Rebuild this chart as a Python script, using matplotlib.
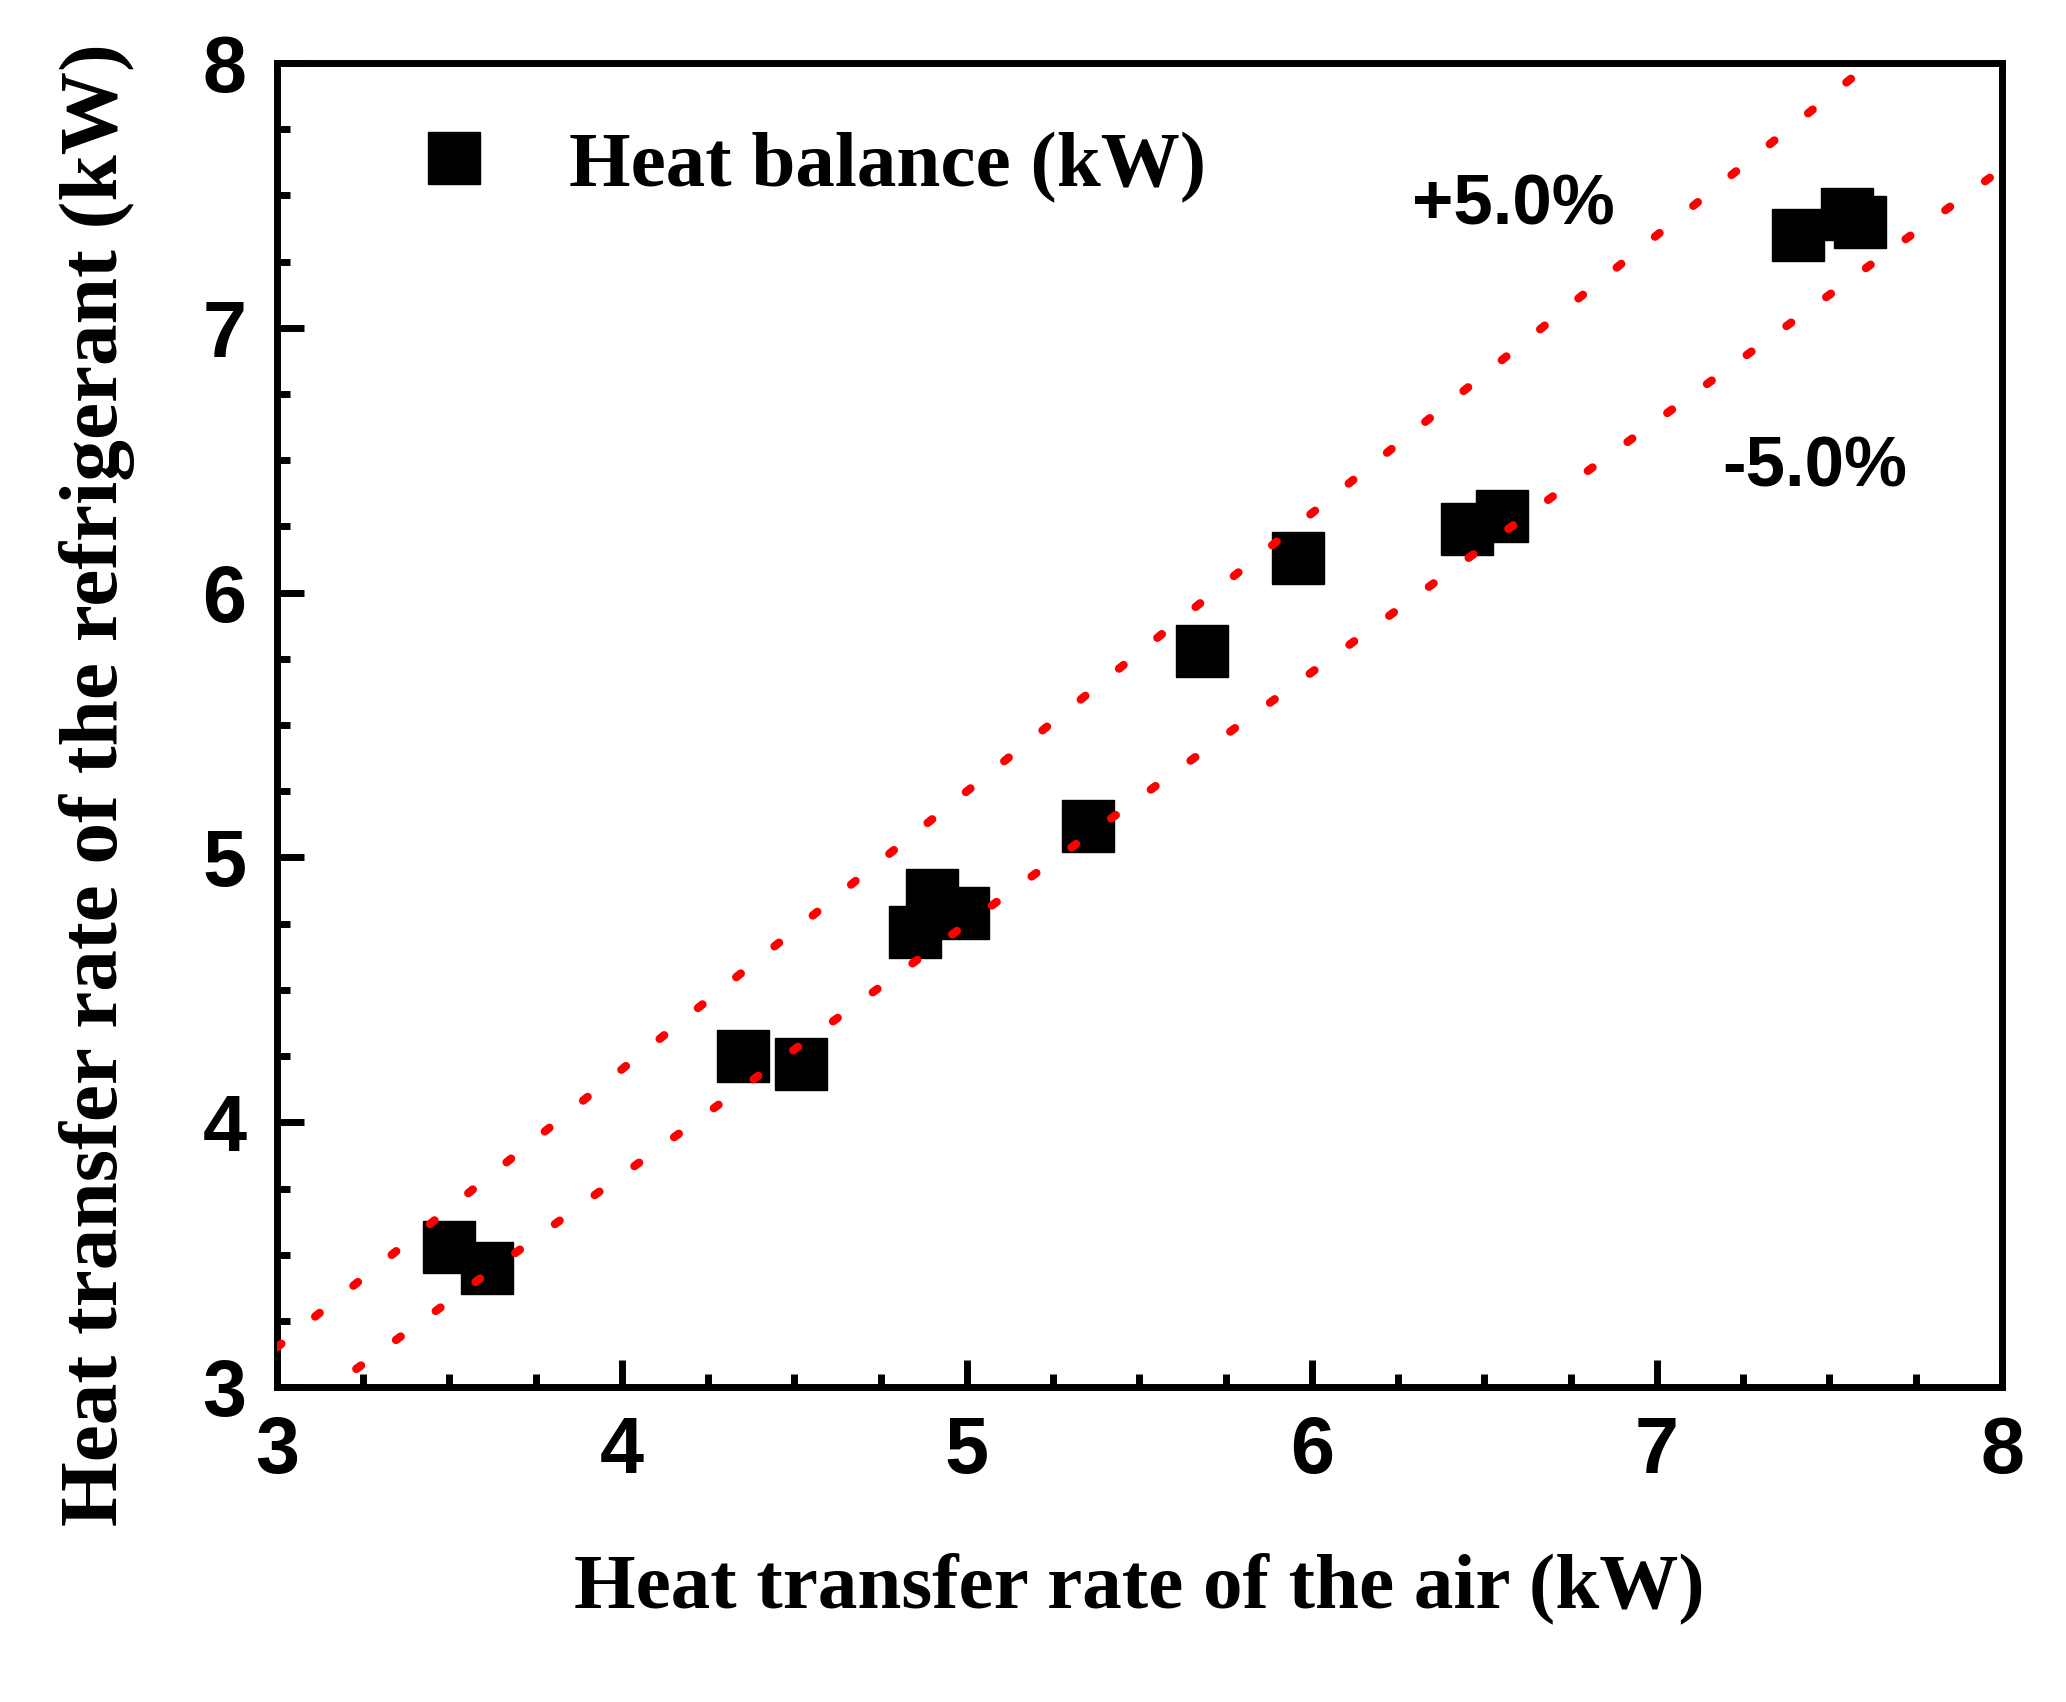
import matplotlib
matplotlib.use("Agg")
import matplotlib.pyplot as plt
import numpy as np
from matplotlib.ticker import MultipleLocator

# measured heat balance points (kW)
q_air = [3.50, 3.61, 4.35, 4.52, 4.85, 4.90, 4.99, 5.35, 5.68, 5.96, 6.45, 6.55, 7.41, 7.55, 7.59]
q_ref = [3.53, 3.45, 4.25, 4.22, 4.72, 4.86, 4.79, 5.12, 5.78, 6.13, 6.24, 6.29, 7.35, 7.43, 7.40]

# +/- 5 % error bands
band_x = [3.0, 8.0]
band_hi = [1.05 * v for v in band_x]
band_lo = [0.95 * v for v in band_x]

fig = plt.figure(figsize=(20.66, 17.02), dpi=100)
ax = fig.add_axes([0.134, 0.185, 0.835, 0.778])

ax.plot(q_air, q_ref, 's', color='black', markersize=38, linestyle='none',
        label='Heat balance (kW)', zorder=2)
ax.plot(band_x, band_hi, color='red', lw=6, linestyle=(0, (0.7, 5.2)),
        dash_capstyle='round', zorder=3)
ax.plot(band_x, band_lo, color='red', lw=6, linestyle=(0, (0.7, 5.2)),
        dash_capstyle='round', zorder=3)

ax.set_xlim(3, 8)
ax.set_ylim(3, 8)
ax.xaxis.set_major_locator(MultipleLocator(1))
ax.xaxis.set_minor_locator(MultipleLocator(0.25))
ax.yaxis.set_major_locator(MultipleLocator(1))
ax.yaxis.set_minor_locator(MultipleLocator(0.25))

for s in ax.spines.values():
    s.set_linewidth(5)
ax.tick_params(which='major', direction='in', length=19.5, width=5, pad=22)
ax.tick_params(axis='x', which='major', pad=20)
ax.tick_params(which='minor', direction='in', length=9.5, width=5)
for lab in ax.get_xticklabels() + ax.get_yticklabels():
    lab.set_fontfamily('Liberation Sans')
    lab.set_fontweight('bold')
    lab.set_fontsize(57)

ax.set_xlabel('Heat transfer rate of the air (kW)', fontfamily='Liberation Serif',
              fontweight='bold', fontsize=57, labelpad=45)
ax.set_ylabel('Heat transfer rate of the refrigerant (kW)', fontfamily='Liberation Serif',
              fontweight='bold', fontsize=60)
ax.yaxis.set_label_coords(-0.082, 0.455)

ax.text(6.29, 7.39, '+5.0%', fontfamily='Liberation Sans', fontweight='bold', fontsize=51)
ax.text(7.19, 6.40, '-5.0%', fontfamily='Liberation Sans', fontweight='bold', fontsize=51)

ax.legend(loc='upper left', bbox_to_anchor=(0.057, 0.949), frameon=False,
          markerscale=1.0, handletextpad=0.45, borderaxespad=0.0, borderpad=0.0,
          prop={'family': 'Liberation Serif', 'weight': 'bold', 'size': 57})

fig.savefig('out.png', dpi=100)
